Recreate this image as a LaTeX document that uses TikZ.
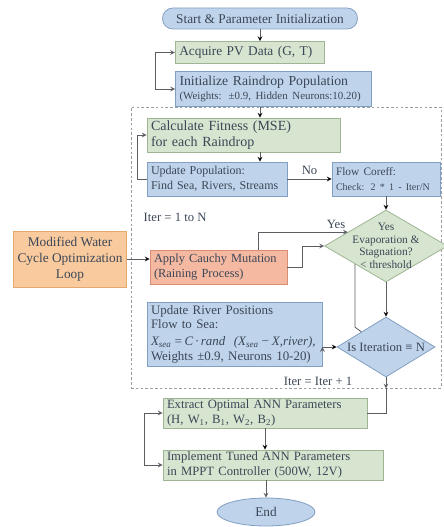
\documentclass[tikz,border=0pt]{standalone}
\usepackage{fontspec}
\setmainfont{Liberation Serif}
\usepackage{tikz}
\usetikzlibrary{shapes.geometric}
\definecolor{txt}{HTML}{3B4656}
\definecolor{lnc}{HTML}{5A5E63}
\definecolor{dotc}{HTML}{9A9EA3}
\definecolor{gfill}{HTML}{D7E5D0}
\definecolor{gline}{HTML}{9DB592}
\definecolor{bfill}{HTML}{BFD4EB}
\definecolor{bline}{HTML}{819FC2}
\definecolor{ofill}{HTML}{F9CA9E}
\definecolor{oline}{HTML}{E2A86F}
\definecolor{sfill}{HTML}{F5B9A2}
\definecolor{sline}{HTML}{D98E74}

\begin{document}
\begin{tikzpicture}[x=0.75pt,y=-0.75pt,font=\fontsize{9.5}{11}\selectfont,text=txt,
    bx/.style={draw,line width=0.6pt,inner xsep=3pt,inner ysep=0pt,align=left},
    gbx/.style={bx,fill=gfill,draw=gline},
    bbx/.style={bx,fill=bfill,draw=bline},
    flw/.style={-stealth,draw=lnc,line width=0.6pt}]
  \useasboundingbox (0,0) rectangle (443,527);
  \node (loop) [draw=dotc,dash pattern=on 2pt off 1.6pt,line width=0.7pt,minimum
    width=232.5pt,minimum height=210.75pt,inner sep=0] at (286,247.5) {};
  \node (start) [bbx,rounded corners=7.8pt,minimum width=146.25pt,minimum
    height=15.75pt,align=center,font=\fontsize{10}{11}\selectfont] at (260,18.5)
    {Start \& Parameter Initialization};
  \node (acq) [gbx,text width=106pt,minimum height=16.5pt,font=\fontsize{10}{12}\selectfont]
    at (250,52.5) {Acquire PV Data (G, T)};
  \node (init) [bbx,text width=141pt,minimum height=26pt,font=\fontsize{10.3}{11}\selectfont]
    at (273.5,89) {Initialize Raindrop Population\\{\fontsize{8.2}{9}\selectfont (Weights: ±0.9, Hidden Neurons:10.20)}};
  \node (calc) [gbx,text width=138.75pt,minimum height=25.5pt,font=\fontsize{10.5}{12}\selectfont]
    at (243.5,135) {Calculate Fitness (MSE)\\for each Raindrop};
  \node (upd) [bbx,text width=99pt,minimum height=25.5pt,font=\fontsize{9}{11}\selectfont]
    at (217,179) {Update Population:\\Find Sea, Rivers, Streams};
  \node (flow) [bbx,text width=75pt,minimum height=25.5pt] at (386,179)
    {{\fontsize{8.5}{10}\selectfont Flow Coreff:}\\{\fontsize{7.5}{8.5}\selectfont Check: 2 * 1 - Iter/N}};
  \node (evap) [diamond,draw=gline,fill=gfill,line width=0.6pt,minimum width=92.25pt,
    minimum height=54pt,inner sep=0,label={[align=center,font=\fontsize{8.5}{9.5}\selectfont]center:Yes\\Evaporation \&\\Stagnation?\\< threshold}]
    at (386,246) {};
  \node (mwco) [bx,fill=ofill,draw=oline,minimum width=84pt,minimum height=42pt,align=center,
    font=\fontsize{10}{12}\selectfont] at (70,259) {Modified Water\\Cycle Optimization\\Loop};
  \node (cauchy) [bx,fill=sfill,draw=sline,text width=96.75pt,minimum height=25.5pt,
    font=\fontsize{9.3}{11}\selectfont] at (218.5,267) {Apply Cauchy Mutation\\(Raining Process)};
  \node (river) [bbx,text width=125.25pt,minimum height=48pt,font=\fontsize{9.7}{11}\selectfont]
    at (234.5,334) {Update River Positions\\Flow to Sea:\\[1.5pt]{\itshape X\textsubscript{sea}\,=\,C\,·\,rand\ \ (X\textsubscript{sea}\,−\,X,river)},\\Weights ±0.9, Neurons 10-20)};
  \node (iterN) [diamond,draw=bline,fill=bfill,line width=0.6pt,minimum width=73.5pt,
    minimum height=45pt,inner sep=0,label=center:{Is Iteration ≡ N}] at (386,347) {};
  \node (extract) [gbx,text width=147pt,minimum height=22.5pt] at (265,413)
    {Extract Optimal ANN Parameters\\(H, W\textsubscript{1}, B\textsubscript{1}, W\textsubscript{2}, B\textsubscript{2})};
  \node (impl) [gbx,text width=159pt,minimum height=22.5pt,font=\fontsize{9.5}{11}\selectfont]
    at (273,465) {Implement Tuned ANN Parameters\\in MPPT Controller (500W, 12V)};
  \node (end) [ellipse,draw=bline,fill=bfill,line width=0.6pt,minimum width=73.5pt,
    minimum height=21pt,inner sep=0,font=\fontsize{10}{11}\selectfont] at (266,512) {End};
  \node (yes) at (336,224) {Yes};
  \node (iter1) [anchor=west] at (139,217) {Iter = 1 to N};
  \node (iter2) at (318,381) {Iter = Iter + 1};

  \path[flw] (start) edge (start.south |- acq.north)
    (start.south |- init.south) edge (start.south |- calc.north)
    (start.south |- calc.south) edge (start.south |- upd.north)
    (upd) edge node (no) [above] {No} (flow)
    (flow) edge (evap)
    (mwco) edge (mwco -| cauchy.west)
    (evap) edge (iterN)
    (river.east |- iterN) edge (iterN)
    (extract) edge (extract |- impl.north);
  \draw[flw] (impl.south -| end) -- (end.north);
  \draw[flw,stealth-stealth] (acq.west) -- ++(-20,0) |- (init.west);
  \draw[flw] (upd.west) -- ++(-9,0) |- (calc.west);
  \draw[flw] ([xshift=30pt]cauchy.north) |- (evap.160);
  \draw[flw] (cauchy.east) -- ++(15,0) |- (evap.west);
  \draw[draw=lnc,line width=0.6pt] (evap.south west) -- ++(0,63) -- (iterN.north west);
  \draw[flw] (iterN.south) -- (iterN.south |- loop.south);
  \draw[draw=lnc,line width=0.6pt] (iterN.south |- loop.south) |- (extract.east);
  \draw[flw,stealth-stealth] (extract.west) -- ++(-18,0) |- (impl.west);
\end{tikzpicture}
\end{document}
